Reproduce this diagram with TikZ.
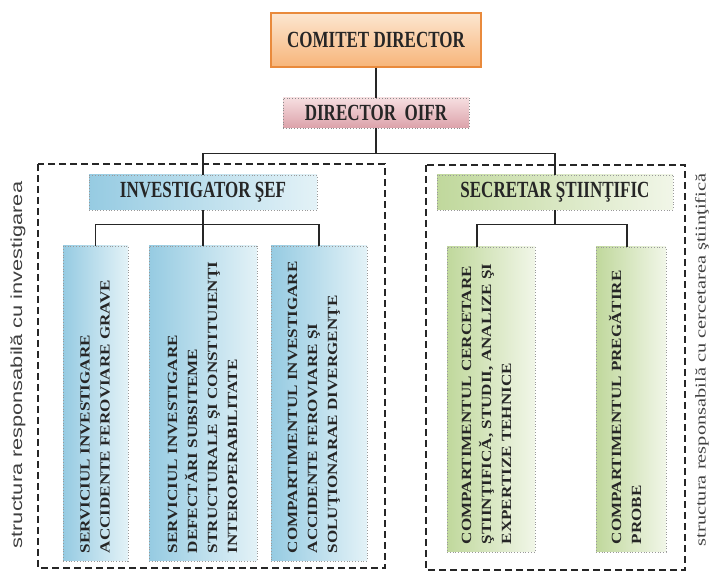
\documentclass[tikz,border=0pt]{standalone}
\usepackage{fontspec}
\setmainfont{Liberation Serif}
\newfontfamily\sidesans{Liberation Sans}
\usetikzlibrary{calc}

\definecolor{peachtop}{HTML}{FCE6D0}
\definecolor{peachbot}{HTML}{F7B57A}
\definecolor{peachline}{HTML}{E98A3C}
\definecolor{rosetop}{HTML}{F6DEE0}
\definecolor{rosebot}{HTML}{DCA2AA}
\definecolor{bluedark}{HTML}{96CBE2}
\definecolor{bluelight}{HTML}{E3F2F7}
\definecolor{greendark}{HTML}{C0D89C}
\definecolor{greenlight}{HTML}{F1F6E8}

\newcommand{\tallt}[1]{\scalebox{1}[1.36]{#1}}
\newcommand{\longt}[1]{\scalebox{1.22}[1]{#1}}

\begin{document}
\begin{tikzpicture}[x=1pt,y=1pt,
    conn/.style={line width=1.1pt, black!85},
    dashbox/.style={line width=1.1pt, dash pattern=on 7pt off 4pt, black!85},
    hdtext/.style={font=\fontsize{17}{20}\selectfont\bfseries, text=black!85, inner sep=0pt},
    cdbox/.style={hdtext, draw=peachline, line width=1.4pt, top color=peachtop, bottom color=peachbot},
    dobox/.style={hdtext, draw=black!45, dotted, line width=0.8pt, top color=rosetop, bottom color=rosebot},
    bluebox/.style={draw=black!40, dotted, line width=0.8pt, left color=bluedark, right color=bluelight, inner sep=0pt},
    greenbox/.style={draw=black!40, dotted, line width=0.8pt, left color=greendark, right color=greenlight, inner sep=0pt},
    vtext/.style={rotate=90, anchor=west, inner sep=0pt, text=black!85,
        font=\fontsize{14}{20}\selectfont\bfseries},
    sidetext/.style={rotate=90, inner sep=0pt, text=black!75}]
\useasboundingbox (0,0) rectangle (710,572);

% top of the chart
\node[cdbox, minimum width=210pt, minimum height=54pt] (cd) at (376,532) {\tallt{COMITET DIRECTOR}};
\node[dobox, minimum width=186pt, minimum height=30pt] (do) at (376,459) {\tallt{DIRECTOR\ \ OIFR}};

% the two structures
\draw[dashbox] (38,408) rectangle (385,4);
\draw[dashbox] (426,407) rectangle (685,2);

\node[hdtext, bluebox, minimum width=228pt, minimum height=35pt] (inv) at (203,379.5) {\tallt{INVESTIGATOR ŞEF}};
\node[hdtext, greenbox, minimum width=236pt, minimum height=35pt] (sec) at (555,379.5) {\tallt{SECRETAR ŞTIINŢIFIC}};

\node[bluebox, minimum width=65pt, minimum height=315pt] (b1) at (95.5,168.5) {};
\node[bluebox, minimum width=108pt, minimum height=315pt] (b2) at (203,168.5) {};
\node[bluebox, minimum width=96pt, minimum height=315pt] (b3) at (319,168.5) {};
\node[greenbox, minimum width=88pt, minimum height=305pt] (g1) at (491,172.5) {};
\node[greenbox, minimum width=70pt, minimum height=305pt] (g2) at (631,172.5) {};

\node[vtext] (b1t) at ([yshift=8pt]b1.south) {\longt{\begin{tabular}{@{}l@{}}SERVICIUL INVESTIGARE\\ACCIDENTE FEROVIARE GRAVE\end{tabular}}};
\node[vtext] (b2t) at ([yshift=8pt]b2.south) {\longt{\begin{tabular}{@{}l@{}}SERVICIUL INVESTIGARE\\DEFECTĂRI SUBSITEME\\STRUCTURALE ŞI CONSTITUIENŢI\\INTEROPERABILITATE\end{tabular}}};
\node[vtext] (b3t) at ([xshift=-6pt,yshift=8pt]b3.south) {\longt{\begin{tabular}{@{}l@{}}COMPARTIMENTUL INVESTIGARE\\ACCIDENTE FEROVIARE ŞI\\SOLUŢIONARAE DIVERGENŢE\end{tabular}}};
\node[vtext] (g1t) at ([xshift=-4pt,yshift=8pt]g1.south) {\longt{\begin{tabular}{@{}l@{}}COMPARTIMENTUL CERCETARE\\ŞTIINŢIFICĂ, STUDII, ANALIZE ŞI\\EXPERTIZE TEHNICE\end{tabular}}};
\node[vtext] (g2t) at ([xshift=-4pt,yshift=8pt]g2.south) {\longt{\begin{tabular}{@{}l@{}}COMPARTIMENTUL PREGĂTIRE\\PROBE\end{tabular}}};

% side labels
\node[sidetext, font=\sidesans\fontsize{16}{18}\selectfont] (lab1) at (18,207) {\scalebox{1.36}[1]{structura responsabilă cu investigarea}};
\node[sidetext, font=\fontsize{15}{18}\selectfont] (lab2) at (702,212) {\scalebox{1.36}[1]{structura responsabilă cu cercetarea ştiinţifică}};

% connectors
\draw[conn] (cd) -- (do);
\draw[conn] (do.south) -- ++(0,-25) coordinate (bus) -| (inv.north);
\draw[conn] (bus) -| (sec.north);
\draw[conn] (inv.south) -- ++(0,-14) coordinate (ibus);
\draw[conn] (b1.north) |- (ibus) -| (b3.north);
\draw[conn] (ibus) -- (b2.north);
\draw[conn] (sec.south) -- ++(0,-14) coordinate (sbus);
\draw[conn] ([xshift=-14pt]g1.north) |- (sbus) -| ([xshift=-4pt]g2.north);
\end{tikzpicture}
\end{document}
